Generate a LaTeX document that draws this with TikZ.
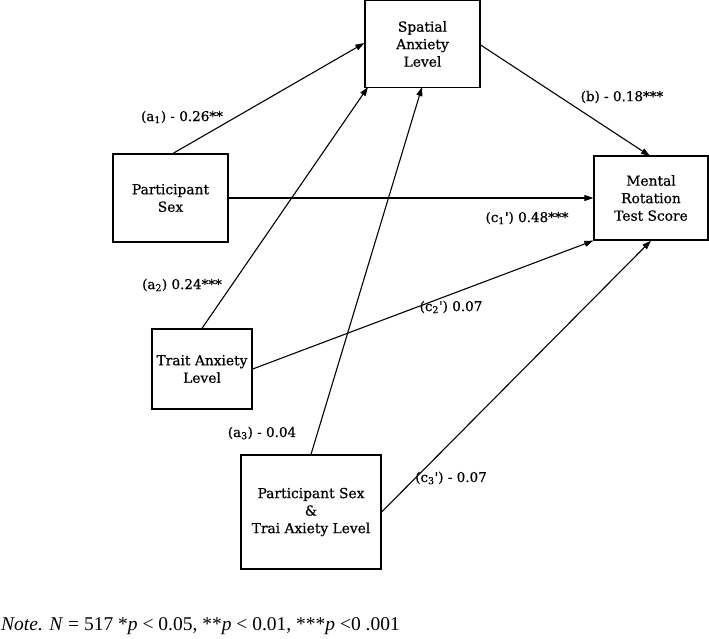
\documentclass[tikz,border=0pt]{standalone}
\usepackage{fontspec}
\setmainfont{DejaVu Serif}[FakeBold=0.6]
\newfontfamily\notefont{Liberation Serif}
\usetikzlibrary{arrows.meta}
\newcommand\sq{\XeTeXglyph\XeTeXglyphindex"quotesingle"\relax}
\begin{document}
\begin{tikzpicture}[x=1pt,y=-1pt,
  box/.style={draw,line width=1.3pt,inner sep=0pt,align=center,font=\fontsize{13.8}{17.5}\selectfont},
  lbl/.style={font=\fontsize{13.5}{15}\selectfont,inner sep=0pt},
  conn/.style={line width=1.1pt,-{Triangle[length=9pt,width=6pt]}},
  plain/.style={line width=1.1pt}]
\useasboundingbox (0,0) rectangle (709,638);
\node[box,minimum width=115pt,minimum height=87pt] (sp) at (422.5,44) {Spatial\\Anxiety\\Level};
\node[box,minimum width=115pt,minimum height=88pt] (ps) at (170.5,198) {Participant\\Sex};
\node[box,minimum width=114pt,minimum height=84pt] (mr) at (651,198) {Mental\\Rotation\\Test Score};
\node[box,minimum width=100pt,minimum height=80pt] (ta) at (202,369) {Trait Anxiety\\Level};
\node[box,minimum width=140pt,minimum height=114pt] (int) at (311,512) {Participant Sex\\\&\\Trai Axiety Level};
% connectors
\coordinate (psT) at (172,154);
\draw[conn] (psT) -- (sp.west |- 0,43);
\draw[conn] (ta.north) -- (368,87);
\draw[conn] (int.north) -- (422,87);
\draw[conn] (sp.east |- 0,45) -- (650,156);
\draw[conn] (ps.east) -- (mr.west |- ps.east);
\draw[conn] (ta.east) -- (mr.south west);
\draw[conn] (int.east) -- (mr.south);
% labels
\node[lbl] (l1) at (182,117) {(a\textsubscript{1}) - 0.26**};
\node[lbl] (l2) at (622,97) {(b) - 0.18***};
\node[lbl] (l3) at (527,218) {(c\textsubscript{1}\sq) 0.48***};
\node[lbl] (l4) at (182,285) {(a\textsubscript{2}) 0.24***};
\node[lbl] (l5) at (451,307) {(c\textsubscript{2}\sq) 0.07};
\node[lbl] (l6) at (262,433) {(a\textsubscript{3}) - 0.04};
\node[lbl] (l7) at (451,478) {(c\textsubscript{3}\sq) - 0.07};
\node[anchor=base west,inner sep=0pt,font=\notefont\fontsize{19.5}{22}\selectfont] (note) at (1,630) {\textit{Note. N} = 517 *\textit{p} < 0.05, **\textit{p} < 0.01, ***\textit{p} <0 .001};
\end{tikzpicture}
\end{document}
